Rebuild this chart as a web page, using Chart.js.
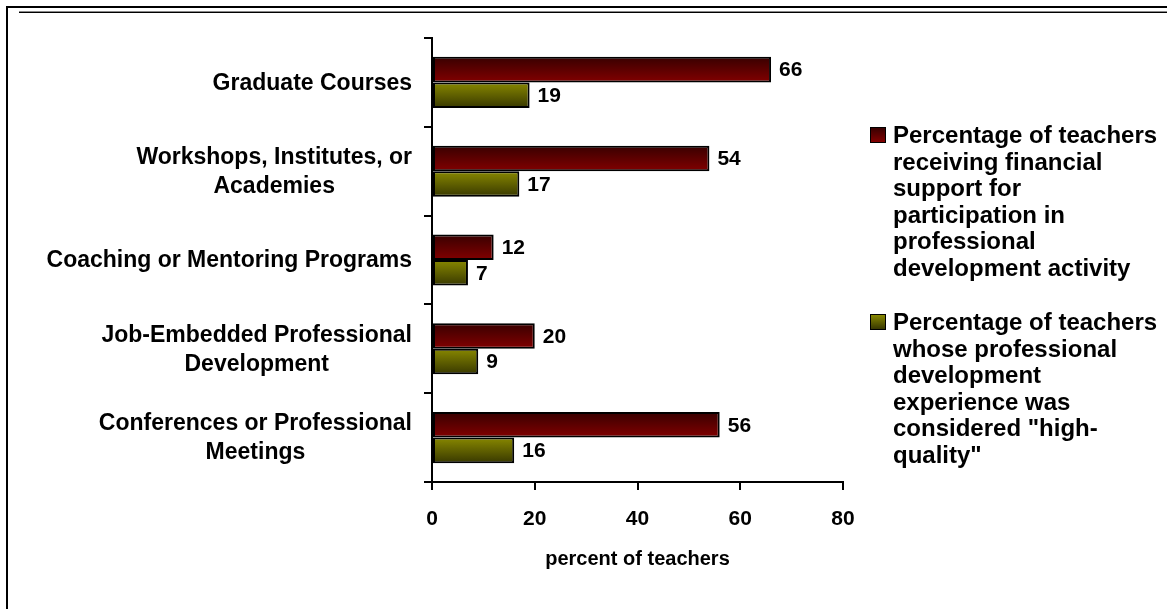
<!DOCTYPE html>
<html>
<head>
<meta charset="utf-8">
<script src="https://cdn.jsdelivr.net/npm/chart.js@4.4.0/dist/chart.umd.min.js"></script>
<style>
body { margin: 0; background: #fff; }
#wrap { position: relative; width: 1167px; height: 609px; overflow: hidden; font-family: "Liberation Sans", Arial, sans-serif; }
.frameTop { position: absolute; left: 6px; top: 6px; width: 1161px; height: 2px; background: #000; }
.frameLeft { position: absolute; left: 6px; top: 6px; width: 2px; height: 603px; background: #000; }
.frameTop2 { position: absolute; left: 19px; top: 11px; width: 1148px; height: 1px; background: #888; border-bottom: 1px solid #000; }
#legend { position: absolute; left: 870px; top: 122px; font-weight: bold; font-size: 24px; line-height: 26.5px; color: #000; }
.item { position: relative; padding-left: 23px; margin-bottom: 28px; white-space: nowrap; }
.box { position: absolute; left: 0; top: 5px; width: 14px; height: 14px; border: 1px solid #000; }
canvas { position: absolute; left: 0; top: 0; }
</style>
</head>
<body>
<div id="wrap">
    <canvas id="bars" width="1167" height="609"></canvas>
    <div class="frameTop"></div>
    <div class="frameLeft"></div>
    <div class="frameTop2"></div>
    <div id="legend"></div>
</div>
<script>
var categories = [
    ["Graduate Courses"],
    ["Workshops, Institutes, or", "Academies"],
    ["Coaching or Mentoring Programs"],
    ["Job-Embedded Professional", "Development"],
    ["Conferences or Professional", "Meetings"]
];
var financialSupport = [66, 54, 12, 20, 56];
var highQuality = [19, 17, 7, 9, 16];
var xTicks = [0, 20, 40, 60, 80];
var axisTitle = "percent of teachers";
var seriesNames = [
    ["Percentage of teachers", "receiving financial", "support for", "participation in", "professional", "development activity"],
    ["Percentage of teachers", "whose professional", "development", "experience was", "considered \"high-", "quality\""]
];

// top / bottom colours of each bar gradient
var seriesColors = [["#380000", "#820000"], ["#888800", "#383800"]];
var FONT = '"Liberation Sans", Arial, sans-serif';

// legend, html so the long names can wrap like the original
var legend = document.getElementById("legend");
seriesNames.forEach(function(lines, i) {
    var item = document.createElement("div");
    item.className = "item";
    var box = document.createElement("span");
    box.className = "box";
    box.style.background = "linear-gradient(" + seriesColors[i][0] + "," + seriesColors[i][1] + ")";
    item.appendChild(box);
    lines.forEach(function(line, j) {
        if (j > 0) item.appendChild(document.createElement("br"));
        item.appendChild(document.createTextNode(line));
    });
    legend.appendChild(item);
});

var gradientBars = {
    id: "gradientBars",
    beforeDatasetsDraw: function(chart) {
        var ctx = chart.ctx;
        chart.data.datasets.forEach(function(ds, di) {
            chart.getDatasetMeta(di).data.forEach(function(bar) {
                var top = bar.y - bar.height / 2;
                var g = ctx.createLinearGradient(0, top, 0, top + bar.height);
                g.addColorStop(0, seriesColors[di][0]);
                g.addColorStop(1, seriesColors[di][1]);
                bar.options.backgroundColor = g;
            });
        });
    }
};

var valueLabels = {
    id: "valueLabels",
    afterDatasetsDraw: function(chart) {
        var ctx = chart.ctx;
        ctx.save();
        ctx.font = "bold 21px " + FONT;
        ctx.fillStyle = "#000";
        ctx.textAlign = "left";
        ctx.textBaseline = "middle";
        chart.data.datasets.forEach(function(ds, di) {
            chart.getDatasetMeta(di).data.forEach(function(bar, i) {
                ctx.fillText(ds.data[i], bar.x + 8, bar.y + 1);
            });
        });
        ctx.restore();
    }
};

// category names: lines centred on each other, block right-aligned to the axis
var categoryLabels = {
    id: "categoryLabels",
    afterDraw: function(chart) {
        var ctx = chart.ctx;
        var yScale = chart.scales.y;
        var right = chart.chartArea.left - 20;
        ctx.save();
        ctx.font = "bold 23px " + FONT;
        ctx.fillStyle = "#000";
        ctx.textAlign = "center";
        ctx.textBaseline = "middle";
        categories.forEach(function(lines, i) {
            var w = 0;
            lines.forEach(function(l) { w = Math.max(w, ctx.measureText(l).width); });
            var cx = right - w / 2;
            var cy = yScale.getPixelForValue(i);
            lines.forEach(function(l, j) {
                ctx.fillText(l, cx, cy + (j - (lines.length - 1) / 2) * 29 + 1);
            });
        });
        ctx.restore();
    }
};

var chart = new Chart(document.getElementById("bars"), {
    type: "bar",
    data: {
        labels: categories,
        datasets: [
            {
                label: seriesNames[0].join(" "),
                data: financialSupport,
                backgroundColor: function(c) { return seriesColors[0][1]; },
                borderColor: "#000",
                borderWidth: 2,
                borderSkipped: false
            },
            {
                label: seriesNames[1].join(" "),
                data: highQuality,
                backgroundColor: function(c) { return seriesColors[1][1]; },
                borderColor: "#000",
                borderWidth: 2,
                borderSkipped: false
            }
        ]
    },
    options: {
        indexAxis: "y",
        responsive: false,
        animation: false,
        categoryPercentage: 0.575,
        barPercentage: 1,
        layout: { padding: { left: 0, top: 38, right: 324, bottom: 27 } },
        plugins: {
            legend: { display: false },
            tooltip: { enabled: false }
        },
        scales: {
            y: {
                grid: { drawOnChartArea: false, color: "#000", lineWidth: 2, tickLength: 8 },
                border: { color: "#000", width: 2 },
                ticks: { display: false },
                afterFit: function(s) { s.width = 432; }
            },
            x: {
                min: xTicks[0],
                max: xTicks[xTicks.length - 1],
                afterBuildTicks: function(s) { s.ticks = xTicks.map(function(v) { return { value: v }; }); },
                grid: { drawOnChartArea: false, color: "#000", lineWidth: 2, tickLength: 8 },
                border: { color: "#000", width: 2 },
                ticks: { color: "#000", font: { family: FONT, size: 21, weight: "bold" }, padding: 17, maxRotation: 0 },
                title: { display: true, text: axisTitle, color: "#000", font: { family: FONT, size: 20, weight: "bold" }, padding: { top: 10, bottom: 11 } },
                afterFit: function(s) { s.height = 100; }
            }
        }
    },
    plugins: [gradientBars, valueLabels, categoryLabels]
});
</script>
</body>
</html>
